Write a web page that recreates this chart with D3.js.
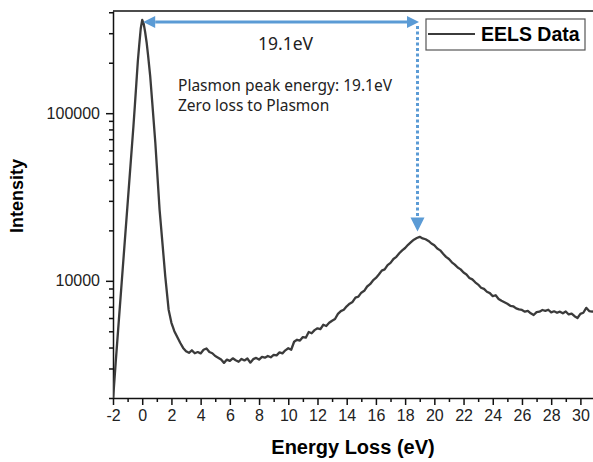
<!DOCTYPE html>
<html>
<head>
<meta charset="utf-8">
<script src="https://cdn.jsdelivr.net/npm/d3@7"></script>
<style>
    body { margin: 0; background: #fff; }
    .axis text { font-family: "Liberation Sans", Arial, sans-serif; font-size: 16px; fill: #222; }
    .axis path, .axis line { stroke: #111; stroke-width: 1.5; }
</style>
</head>
<body>
<div id="chart"></div>
<script>
// energy loss (eV), intensity (counts)
let eelsData = [
    [-2.0, 1950], [-1.8, 3400], [-1.6, 5810], [-1.4, 9910], [-1.2, 16900], [-1.0, 28800],
    [-0.8, 49200], [-0.6, 83900], [-0.5, 112000], [-0.4, 151000], [-0.3, 204000], [-0.2, 257000],
    [-0.1, 320000], [0.0, 360000], [0.1, 342000], [0.2, 305000], [0.3, 265000], [0.4, 222000],
    [0.55, 165000], [0.7, 112000], [0.9, 66200], [1.0, 48300], [1.19, 26500], [1.4, 16200],
    [1.58, 10600], [1.81, 6710], [2.0, 5620], [2.2, 5010], [2.4, 4620], [2.6, 4270],
    [2.8, 3980],
    [3.0, 3800], [3.2, 3720], [3.4, 3850], [3.6, 3700], [3.8, 3760], [4.0, 3690],
    [4.2, 3880], [4.4, 3950], [4.6, 3760], [4.8, 3700], [5.0, 3560], [5.2, 3480],
    [5.4, 3390], [5.6, 3240], [5.8, 3390], [6.0, 3330], [6.2, 3450], [6.4, 3360],
    [6.6, 3290], [6.8, 3420], [7.0, 3350], [7.2, 3440], [7.4, 3250], [7.6, 3410],
    [7.8, 3470], [8.0, 3390], [8.2, 3520], [8.4, 3480], [8.6, 3560], [8.8, 3500],
    [9.0, 3620], [9.2, 3590], [9.4, 3740], [9.6, 3690], [9.8, 3850], [10.0, 3960],
    [10.2, 3880], [10.4, 4330], [10.6, 4450], [10.8, 4400], [11.0, 4620], [11.2, 4580],
    [11.4, 4950], [11.6, 4870], [11.8, 5080], [12.0, 5210], [12.2, 5150], [12.4, 5470],
    [12.6, 5380], [12.8, 5620], [13.0, 5780], [13.2, 5920], [13.4, 6350], [13.6, 6600],
    [13.8, 6720], [14.0, 7050], [14.2, 7300], [14.4, 7480], [14.6, 7950], [14.8, 8050],
    [15.0, 8500], [15.2, 8720], [15.4, 9250], [15.6, 9550], [15.8, 10050], [16.0, 10400],
    [16.2, 10900], [16.4, 11500], [16.6, 11700], [16.8, 12400], [17.0, 12800], [17.2, 13500],
    [17.4, 13900], [17.6, 14600], [17.8, 15200], [18.0, 15700], [18.2, 16400], [18.4, 17000],
    [18.6, 17600], [18.8, 18000], [19.0, 18300], [19.2, 17900], [19.4, 17700], [19.6, 17300],
    [19.8, 16700], [20.0, 16300], [20.2, 15600], [20.4, 15200], [20.6, 14500], [20.8, 13900],
    [21.0, 13500], [21.2, 12900], [21.4, 12500], [21.6, 12000], [21.8, 11700], [22.0, 11200],
    [22.2, 10900], [22.4, 10400], [22.6, 10200], [22.8, 9800], [23.0, 9500], [23.2, 9100],
    [23.4, 8950], [23.6, 8600], [23.8, 8450], [24.0, 8100], [24.2, 8200], [24.4, 7800],
    [24.6, 7600], [24.8, 7450], [25.0, 7300], [25.2, 7100], [25.4, 7050], [25.6, 6850],
    [25.8, 6750], [26.0, 6700], [26.2, 6550], [26.4, 6620], [26.6, 6400], [26.8, 6250],
    [27.0, 6500], [27.2, 6550], [27.4, 6700], [27.6, 6620], [27.8, 6720], [28.0, 6480],
    [28.2, 6580], [28.4, 6450], [28.6, 6550], [28.8, 6400], [29.0, 6560], [29.2, 6300],
    [29.4, 6380], [29.6, 6150], [29.8, 6000], [30.0, 6350], [30.2, 6450], [30.4, 6900],
    [30.6, 6600], [30.8, 6550], [31.0, 6600]
];

let xMajorTicks = [-2, 0, 2, 4, 6, 8, 10, 12, 14, 16, 18, 20, 22, 24, 26, 28, 30];
let xMinorTicks = [-1, 1, 3, 5, 7, 9, 11, 13, 15, 17, 19, 21, 23, 25, 27, 29];
let yMajorTicks = [10000, 100000];
let yMinorTicks = [2000, 3000, 4000, 5000, 6000, 7000, 8000, 9000,
    20000, 30000, 40000, 50000, 60000, 70000, 80000, 90000, 200000, 300000, 400000];

// annotation: zero-loss peak to plasmon peak
let zeroLossPeak = {e: 0, i: 350000};
let plasmonPeak = {e: 18.95, i: 19700};
let annoLabels = ["19.1eV", "Plasmon peak energy: 19.1eV", "Zero loss to Plasmon"];
let seriesName = "EELS Data";

let margin = {top: 11, right: 0, bottom: 64, left: 113};
let width = 593 - margin.left - margin.right;
let height = 462 - margin.top - margin.bottom;

let svg = d3.select("#chart").append("svg")
    .attr("width", 593)
    .attr("height", 462)
    .append("g")
    .attr("transform", "translate(" + margin.left + "," + margin.top + ")");

let x = d3.scaleLinear().domain([-2, 31]).range([0, 482]);
let y = d3.scaleLog().domain([2000, 407000]).range([height, 0]);

svg.append("clipPath").attr("id", "clip")
    .append("rect").attr("x", 0).attr("y", -2).attr("width", width).attr("height", height + 2);

// axes
svg.append("g").attr("class", "axis")
    .attr("transform", "translate(0," + height + ")")
    .call(d3.axisBottom(x).tickValues(xMinorTicks).tickSize(4).tickSizeOuter(0).tickFormat(""))
    .select(".domain").remove();
svg.append("g").attr("class", "axis")
    .attr("transform", "translate(0," + height + ")")
    .call(d3.axisBottom(x).tickValues(xMajorTicks).tickSize(7).tickSizeOuter(0).tickPadding(5)
        .tickFormat(d => String(d)));

svg.append("g").attr("class", "axis")
    .call(d3.axisLeft(y).tickValues(yMinorTicks).tickSize(4).tickSizeOuter(0).tickFormat(""))
    .select(".domain").remove();
svg.append("g").attr("class", "axis")
    .call(d3.axisLeft(y).tickValues(yMajorTicks).tickSize(7).tickSizeOuter(0).tickPadding(6)
        .tickFormat(d3.format("d")));

// top frame line
svg.append("line")
    .attr("x1", 0).attr("x2", width)
    .attr("y1", 0).attr("y2", 0)
    .attr("stroke", "#111").attr("stroke-width", 1.5);

// spectrum
let line = d3.line()
    .x(d => x(d[0]))
    .y(d => y(d[1]));

svg.append("path")
    .datum(eelsData)
    .attr("clip-path", "url(#clip)")
    .attr("d", line)
    .attr("fill", "none")
    .attr("stroke", "#3b3b3b")
    .attr("stroke-width", 2.3)
    .attr("stroke-linejoin", "round");

// axis titles
svg.append("text")
    .attr("x", width / 2)
    .attr("y", height + 56)
    .attr("text-anchor", "middle")
    .style("font-family", "'Liberation Sans', Arial, sans-serif")
    .style("font-size", "20px")
    .style("font-weight", "bold")
    .text("Energy Loss (eV)");

svg.append("text")
    .attr("transform", "translate(" + (-90) + "," + (185) + ") rotate(-90)")
    .attr("text-anchor", "middle")
    .style("font-family", "'Liberation Sans', Arial, sans-serif")
    .style("font-size", "18px")
    .style("font-weight", "bold")
    .text("Intensity");

// annotation arrows
let blue = "#5b9bd5";
let ay = y(zeroLossPeak.i);
let ax0 = x(zeroLossPeak.e) + 1;
let ax1 = x(plasmonPeak.e);
let head = 12;

svg.append("line")
    .attr("x1", ax0 + head).attr("x2", ax1 - head)
    .attr("y1", ay).attr("y2", ay)
    .attr("stroke", blue).attr("stroke-width", 3);
svg.append("path")
    .attr("d", `M${ax0},${ay} L${ax0 + head},${ay - 6} L${ax0 + head},${ay + 6} Z`)
    .attr("fill", blue);
svg.append("path")
    .attr("d", `M${ax1},${ay} L${ax1 - head},${ay - 6} L${ax1 - head},${ay + 6} Z`)
    .attr("fill", blue);

let vx = ax1 - 1.5;
let vTip = y(plasmonPeak.i);
svg.append("line")
    .attr("x1", vx).attr("x2", vx)
    .attr("y1", ay + 4).attr("y2", vTip - 13)
    .attr("stroke", blue).attr("stroke-width", 3)
    .attr("stroke-dasharray", "3,2.5");
svg.append("path")
    .attr("d", `M${vx},${vTip} L${vx - 7},${vTip - 14} L${vx + 7},${vTip - 14} Z`)
    .attr("fill", blue);

// annotation text
svg.append("text")
    .attr("x", 145).attr("y", 39)
    .style("font-family", "'Noto Sans', sans-serif")
    .style("font-size", "17.5px")
    .attr("fill", "#222")
    .text(annoLabels[0]);

svg.selectAll(".note")
    .data(annoLabels.slice(1))
    .enter().append("text")
    .attr("class", "note")
    .attr("x", 65)
    .attr("y", (d, i) => 79.5 + i * 20)
    .style("font-family", "'Noto Sans', sans-serif")
    .style("font-size", "15.5px")
    .attr("fill", "#222")
    .text(d => d);

// legend
let legend = svg.append("g").attr("transform", "translate(313,8)");
legend.append("rect")
    .attr("width", 159).attr("height", 31)
    .attr("fill", "#fff").attr("stroke", "#555").attr("stroke-width", 1.2);
legend.append("line")
    .attr("x1", 2).attr("x2", 49)
    .attr("y1", 15).attr("y2", 15)
    .attr("stroke", "#3b3b3b").attr("stroke-width", 2.2);
legend.append("text")
    .attr("x", 55).attr("y", 22)
    .style("font-family", "'Liberation Sans', Arial, sans-serif")
    .style("font-size", "19.5px")
    .style("font-weight", "bold")
    .text(seriesName);
</script>
</body>
</html>
